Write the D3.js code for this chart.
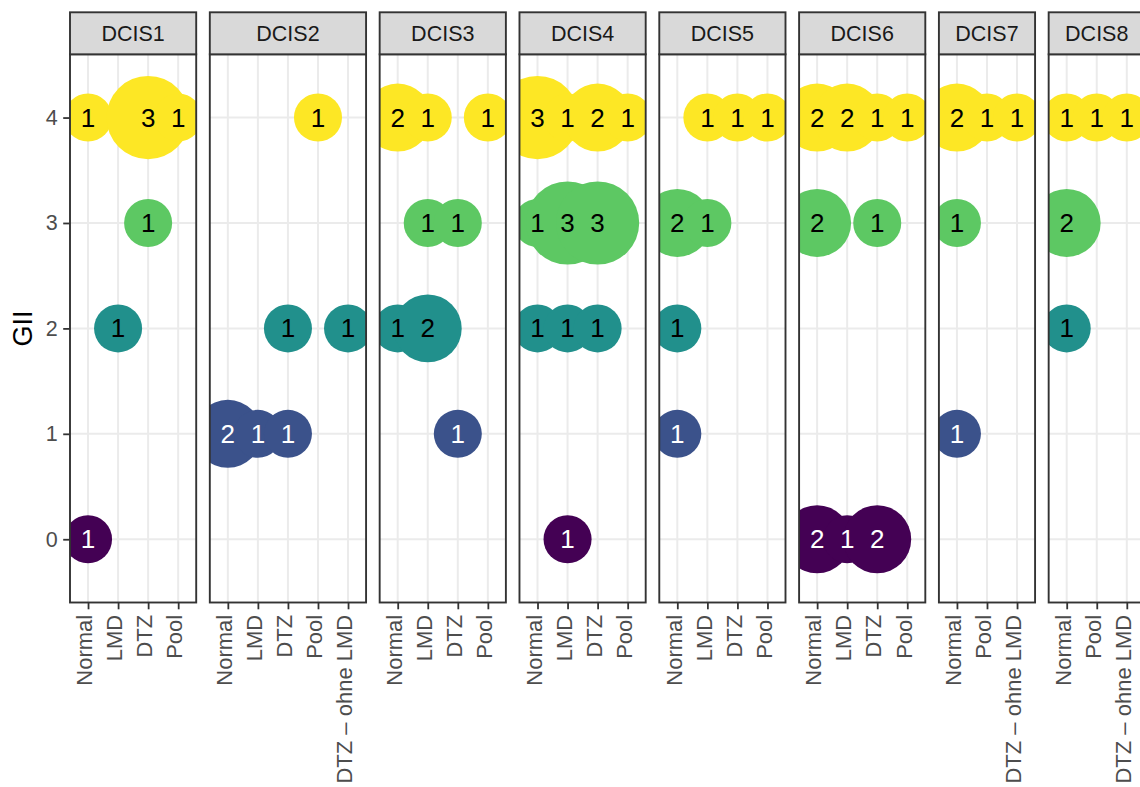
<!DOCTYPE html>
<html>
<head>
<meta charset="utf-8">
<script src="https://cdn.jsdelivr.net/npm/d3@7"></script>
<style>
  body { margin: 0; background: #fff; }
  svg { display: block; font-family: "Liberation Sans", Arial, Helvetica, sans-serif; }
</style>
</head>
<body>
<div id="chart"></div>
<script>
// facets and the samples shown in each one (every facet has its own x scale)
let facetNames = ["DCIS1", "DCIS2", "DCIS3", "DCIS4", "DCIS5", "DCIS6", "DCIS7", "DCIS8"];
let facetSamples = [
    ["Normal", "LMD", "DTZ", "Pool"],
    ["Normal", "LMD", "DTZ", "Pool", "DTZ – ohne LMD"],
    ["Normal", "LMD", "DTZ", "Pool"],
    ["Normal", "LMD", "DTZ", "Pool"],
    ["Normal", "LMD", "DTZ", "Pool"],
    ["Normal", "LMD", "DTZ", "Pool"],
    ["Normal", "Pool", "DTZ – ohne LMD"],
    ["Normal", "Pool", "DTZ – ohne LMD"]
];
let giiLevels = [0, 1, 2, 3, 4];
let giiColors = ["#440154", "#3B528B", "#21908C", "#5DC863", "#FDE725"];

// bubbles of each facet: [sample, GII, count]
let dcis1 = [["Normal", 4, 1], ["Normal", 0, 1], ["LMD", 2, 1], ["DTZ", 4, 3], ["DTZ", 3, 1], ["Pool", 4, 1]];
let dcis2 = [["Normal", 1, 2], ["LMD", 1, 1], ["DTZ", 2, 1], ["DTZ", 1, 1], ["Pool", 4, 1], ["DTZ – ohne LMD", 2, 1]];
let dcis3 = [["Normal", 4, 2], ["Normal", 2, 1], ["LMD", 4, 1], ["LMD", 3, 1], ["LMD", 2, 2], ["DTZ", 3, 1], ["DTZ", 1, 1], ["Pool", 4, 1]];
let dcis4 = [["Normal", 4, 3], ["Normal", 3, 1], ["Normal", 2, 1], ["LMD", 4, 1], ["LMD", 3, 3], ["LMD", 2, 1], ["LMD", 0, 1],
             ["DTZ", 4, 2], ["DTZ", 3, 3], ["DTZ", 2, 1], ["Pool", 4, 1]];
let dcis5 = [["Normal", 3, 2], ["Normal", 2, 1], ["Normal", 1, 1], ["LMD", 4, 1], ["LMD", 3, 1], ["DTZ", 4, 1], ["Pool", 4, 1]];
let dcis6 = [["Normal", 4, 2], ["Normal", 3, 2], ["Normal", 0, 2], ["LMD", 4, 2], ["LMD", 0, 1], ["DTZ", 4, 1], ["DTZ", 3, 1], ["DTZ", 0, 2], ["Pool", 4, 1]];
let dcis7 = [["Normal", 4, 2], ["Normal", 3, 1], ["Normal", 1, 1], ["Pool", 4, 1], ["DTZ – ohne LMD", 4, 1]];
let dcis8 = [["Normal", 4, 1], ["Normal", 3, 2], ["Normal", 2, 1], ["Pool", 4, 1], ["DTZ – ohne LMD", 4, 1]];
let facetPoints = [dcis1, dcis2, dcis3, dcis4, dcis5, dcis6, dcis7, dcis8];

// layout (pixels)
let width = 1140, height = 787;
let panelLeft = 70, panelTop = 54.3, panelBottom = 602.5, stripTop = 12.3;
let unit = 30.05;   // distance between two samples
let gap = 13.6;     // space between facets
let panelH = panelBottom - panelTop;

let svg = d3.select("#chart").append("svg")
    .attr("width", width)
    .attr("height", height);
svg.append("rect").attr("width", width).attr("height", height).attr("fill", "#fff");

let y = d3.scaleLinear().domain([-0.6, 4.6]).range([panelH, 0]);
let r = d3.scaleSqrt().domain([0, 3]).range([0, 41.6]);
let color = d3.scaleOrdinal().domain(giiLevels).range(giiColors);

let x0 = panelLeft;
for (let i = 0; i < facetNames.length; i++) {
    let samples = facetSamples[i];
    let w = (samples.length - 1 + 1.2) * unit;
    let x = d3.scalePoint().domain(samples).range([0, w]).padding(0.6);

    let g = svg.append("g").attr("transform", `translate(${x0},${panelTop})`);

    // clip to the panel like ggplot does
    g.append("clipPath").attr("id", "clip" + i)
        .append("rect").attr("width", w).attr("height", panelH);

    // grid lines
    g.selectAll(".gx").data(samples).enter().append("line")
        .attr("x1", d => x(d)).attr("x2", d => x(d))
        .attr("y1", 0).attr("y2", panelH)
        .attr("stroke", "#EBEBEB").attr("stroke-width", 2);
    g.selectAll(".gy").data(giiLevels).enter().append("line")
        .attr("x1", 0).attr("x2", w)
        .attr("y1", d => y(d)).attr("y2", d => y(d))
        .attr("stroke", "#EBEBEB").attr("stroke-width", 2);

    let marks = g.append("g").attr("clip-path", `url(#clip${i})`);
    marks.selectAll("circle").data(facetPoints[i]).enter().append("circle")
        .attr("cx", d => x(d[0]))
        .attr("cy", d => y(d[1]))
        .attr("r", d => r(d[2]))
        .attr("fill", d => color(d[1]));
    marks.selectAll("text").data(facetPoints[i]).enter().append("text")
        .attr("x", d => x(d[0]))
        .attr("y", d => y(d[1]))
        .attr("dy", "0.35em")
        .attr("text-anchor", "middle")
        .attr("font-size", "26px")
        .attr("fill", d => d[1] <= 1 ? "#fff" : "#000")
        .text(d => d[2]);

    // panel border
    g.append("rect").attr("width", w).attr("height", panelH)
        .attr("fill", "none").attr("stroke", "#333333").attr("stroke-width", 1.9);

    // strip
    g.append("rect")
        .attr("y", stripTop - panelTop).attr("width", w).attr("height", panelTop - stripTop)
        .attr("fill", "#D9D9D9").attr("stroke", "#333333").attr("stroke-width", 1.9);
    g.append("text")
        .attr("x", w / 2).attr("y", (stripTop - panelTop) / 2)
        .attr("dy", "0.35em").attr("text-anchor", "middle")
        .attr("font-size", "21.5px").attr("fill", "#1A1A1A")
        .text(facetNames[i]);

    // x axis with vertical labels
    let xAxis = g.append("g").attr("transform", `translate(0,${panelH})`)
        .call(d3.axisBottom(x).tickSize(6.8).tickPadding(5.5));
    xAxis.select(".domain").remove();
    xAxis.selectAll(".tick line").attr("stroke", "#333333").attr("stroke-width", 1.8);
    xAxis.selectAll(".tick text")
        .attr("transform", "rotate(-90)")
        .attr("x", -12.3).attr("y", 0).attr("dy", "0.17em")
        .attr("text-anchor", "end")
        .attr("font-size", "22px").attr("font-family", null)
        .attr("fill", "#4D4D4D");

    // y axis only on the first facet
    if (i == 0) {
        let yAxis = g.append("g")
            .call(d3.axisLeft(y).tickValues(giiLevels).tickFormat(d3.format("d")).tickSize(6.8).tickPadding(5.5));
        yAxis.select(".domain").remove();
        yAxis.selectAll(".tick line").attr("stroke", "#333333").attr("stroke-width", 1.8);
        yAxis.selectAll(".tick text")
            .attr("font-size", "21.5px").attr("font-family", null)
            .attr("fill", "#4D4D4D");
    }

    x0 += w + gap;
}

// y axis title
svg.append("text")
    .attr("transform", `translate(23,${(panelTop + panelBottom) / 2}) rotate(-90)`)
    .attr("dy", "0.35em").attr("text-anchor", "middle")
    .attr("font-size", "27px").attr("fill", "#000")
    .text("GII");
</script>
</body>
</html>
